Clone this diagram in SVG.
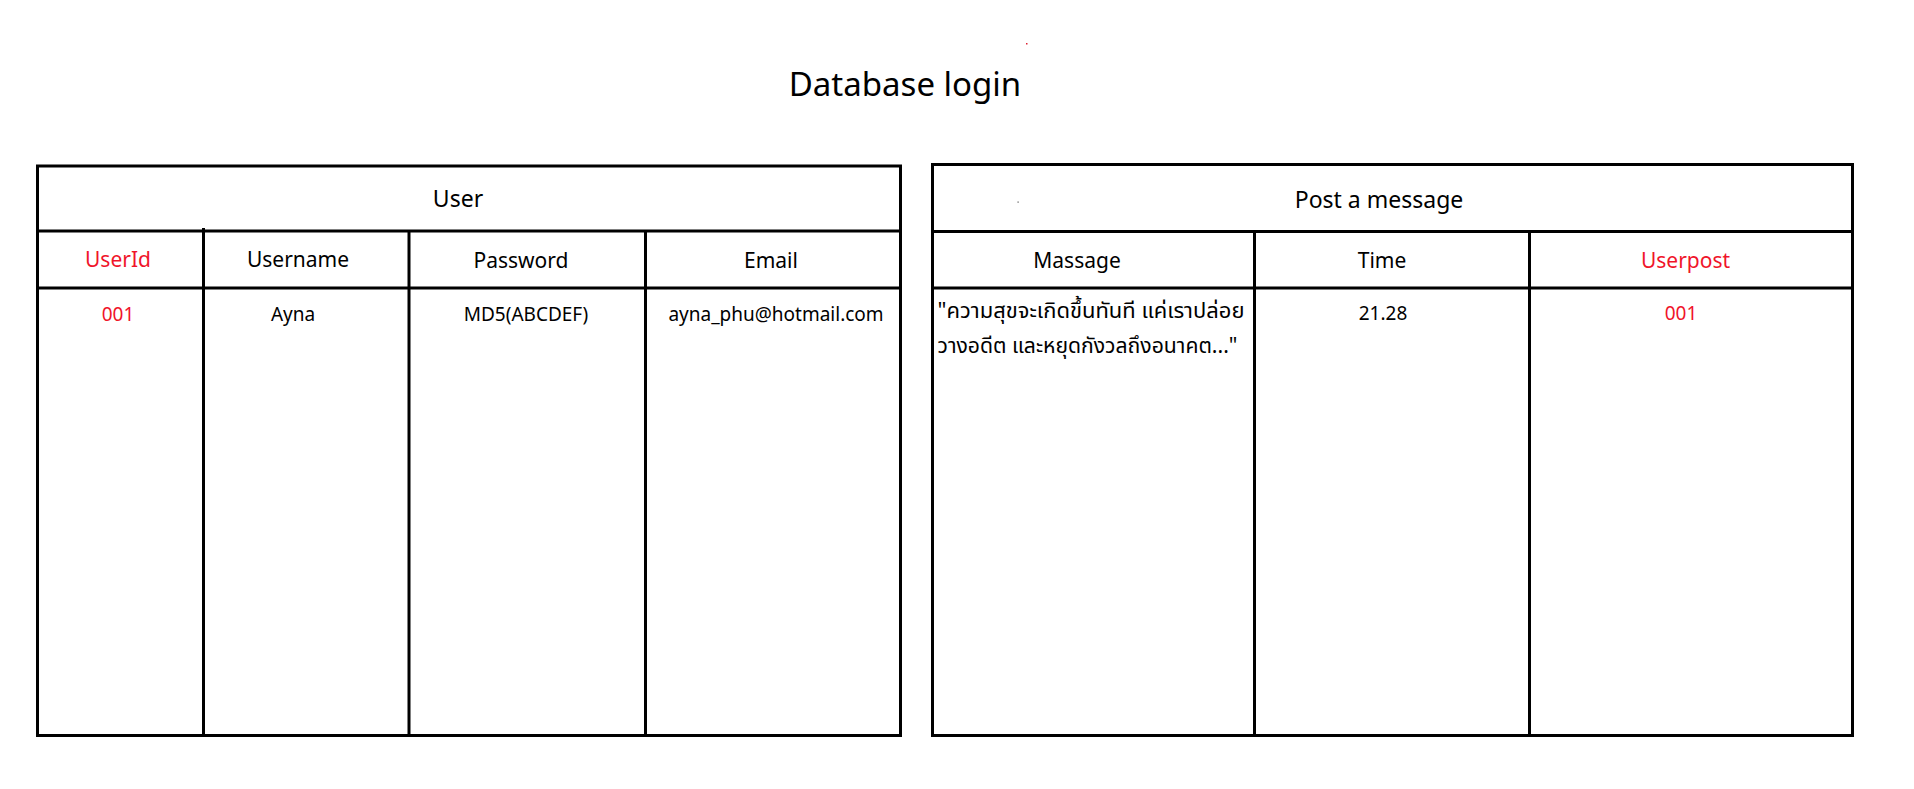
<svg xmlns="http://www.w3.org/2000/svg" width="1914" height="789" viewBox="0 0 1914 789">
<style>
  .t { font-family: "Noto Sans", "Noto Sans Thai", "DejaVu Sans", sans-serif; fill: #000; }
  .c { text-anchor: middle; }
  .red { fill: #f0142a; }
  .hd { font-size: 21px; }
  .dt { font-size: 19px; }
  .th { font-size: 22px; }
  .ln { stroke: #000; stroke-width: 3; fill: none; }
</style>
<rect x="0" y="0" width="1914" height="789" fill="#fff"/>
<rect x="1026" y="43" width="1.5" height="1.5" fill="#d23"/>
<text id="title" class="t c" x="905" y="96" font-size="33">Database login</text>

<g id="table-user">
  <rect class="ln" x="37.5" y="166" width="863" height="569.5"/>
  <line class="ln" x1="37.5" y1="231" x2="900.5" y2="231"/>
  <line class="ln" x1="37.5" y1="288" x2="900.5" y2="288"/>
  <line class="ln" x1="203.5" y1="228" x2="203.5" y2="735.5"/>
  <line class="ln" x1="409" y1="231" x2="409" y2="735.5"/>
  <line class="ln" x1="645.5" y1="231" x2="645.5" y2="735.5"/>
  <text class="t c" x="458" y="207" font-size="23">User</text>
  <text class="t c hd red" x="118" y="267">UserId</text>
  <text class="t c hd" x="298" y="267">Username</text>
  <text class="t c hd" x="521" y="268">Password</text>
  <text class="t c hd" x="771" y="268">Email</text>
  <text class="t c dt red" x="118" y="321">001</text>
  <text class="t c dt" x="293" y="321">Ayna</text>
  <text class="t c dt" x="526" y="321">MD5(ABCDEF)</text>
  <text class="t c dt" x="776" y="321">ayna_phu@hotmail.com</text>
</g>

<g id="table-post">
  <rect class="ln" x="932.5" y="164.5" width="920" height="571"/>
  <line class="ln" x1="932.5" y1="231.5" x2="1852.5" y2="231.5"/>
  <line class="ln" x1="932.5" y1="288" x2="1852.5" y2="288"/>
  <line class="ln" x1="1254.5" y1="231.5" x2="1254.5" y2="735.5"/>
  <line class="ln" x1="1529.5" y1="231.5" x2="1529.5" y2="735.5"/>
  <rect x="1017.5" y="201.5" width="1.2" height="1.2" fill="#555"/>
  <text class="t c" x="1379" y="208" font-size="23">Post a message</text>
  <text class="t c hd" x="1077" y="268">Massage</text>
  <text class="t c hd" x="1382" y="268">Time</text>
  <text class="t c hd red" x="1685.5" y="268">Userpost</text>
  <text class="t th" x="937.5" y="318" textLength="307" lengthAdjust="spacingAndGlyphs">"ความสุขจะเกิดขึ้นทันที แค่เราปล่อย</text>
  <text class="t th" x="937.5" y="353" textLength="300" lengthAdjust="spacingAndGlyphs">วางอดีต และหยุดกังวลถึงอนาคต..."</text>
  <text class="t c dt" x="1383" y="320">21.28</text>
  <text class="t c dt red" x="1681" y="320">001</text>
</g>
</svg>
